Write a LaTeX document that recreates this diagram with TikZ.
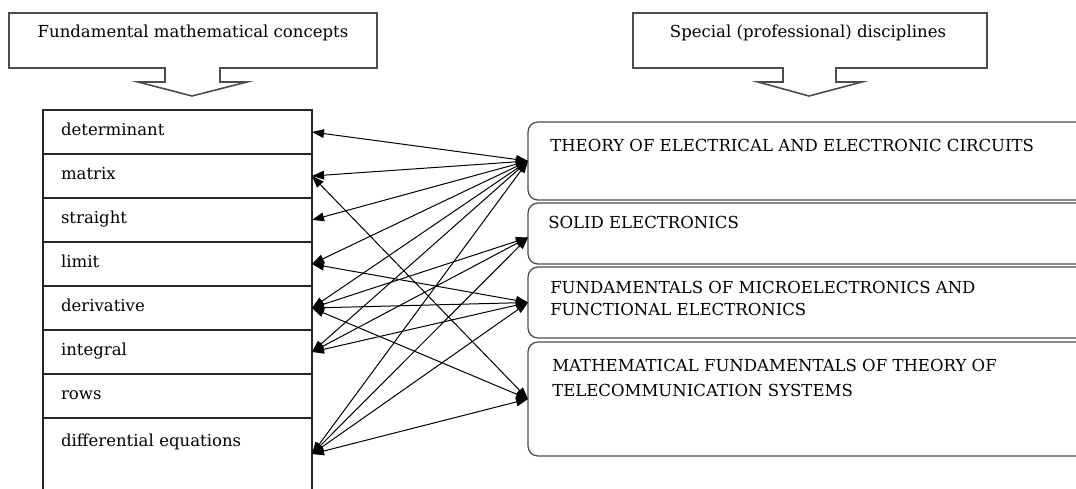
\documentclass[tikz,border=0pt]{standalone}
\usepackage{fontspec}
\setmainfont{DejaVu Serif}
\usetikzlibrary{arrows.meta,positioning}

\begin{document}
\begin{tikzpicture}[x = .75pt, y = -.75pt, font = \fontsize{12.4}{15}\selectfont,
    >={Triangle[length = 9pt, width = 6.5pt]},
    cell/.style = {draw = black!85, line width = .9pt, outer sep = 0pt,
      minimum height = 33pt, text width = 174.75pt, inner xsep = 13.5pt,
      inner ysep = 0pt, align = left, text height = 9pt, text depth = 4.5pt},
    disc/.style = {draw = black!70, line width = .9pt, rounded corners = 7.5pt,
      outer sep = 0pt, minimum width = 429pt, anchor = north west},
    head/.style = {draw = black!70, line width = 1.2pt},
    lbl/.style = {anchor = north west, inner sep = 0pt, align = left},
    link/.style = {<->, line width = .75pt}]
\path[use as bounding box] (0,0) rectangle (1076,489);
\clip (0,0) rectangle (1076,489);

% callouts
\draw[head] (9,13) -- (377,13) -- (377,68) -- (220,68) -- (220,82) -- (247,82)
  -- (192,96) -- (138,82) -- (165,82) -- (165,68) -- (9,68) -- cycle;
\node (fmc) [anchor = base] at (193,37) {Fundamental mathematical concepts};
\draw[head] (633,13) -- (987,13) -- (987,68) -- (836,68) -- (836,82) -- (862,82)
  -- (809,96) -- (758,82) -- (783,82) -- (783,68) -- (633,68) -- cycle;
\node (spd) [anchor = base] at (808,37) {Special (professional) disciplines};

% concepts
\node (det) [cell, anchor = north west] at (43,110) {determinant};
\node (mat) [cell, below = 0pt of det] {matrix};
\node (str) [cell, below = 0pt of mat] {straight};
\node (lim) [cell, below = 0pt of str] {limit};
\node (der) [cell, below = 0pt of lim] {derivative};
\node (int) [cell, below = 0pt of der] {integral};
\node (row) [cell, below = 0pt of int] {rows};
\node (dif) [cell, below = 0pt of row, minimum height = 54pt, text depth = 21pt] {differential equations};

% disciplines
\node (tec) [disc, minimum height = 58.5pt] at (528,122) {};
\node (sol) [disc, minimum height = 45.75pt] at (528,203) {};
\node (mic) [disc, minimum height = 53.25pt] at (528,267) {};
\node (tel) [disc, minimum height = 85.5pt] at (528,342) {};
\node (tect) [lbl] at (550,139) {THEORY OF ELECTRICAL AND ELECTRONIC CIRCUITS};
\node (solt) [lbl] at (548,216) {SOLID ELECTRONICS};
\node (mict) [lbl, font = \fontsize{12.4}{16.5}\selectfont] at (550,281)
  {FUNDAMENTALS OF MICROELECTRONICS AND\\FUNCTIONAL ELECTRONICS};
\node (telt) [lbl, font = \fontsize{12.4}{18.75}\selectfont] at (552,359)
  {MATHEMATICAL FUNDAMENTALS OF THEORY OF\\TELECOMMUNICATION SYSTEMS};

% links
\draw [link] (det.east) -- (tec.west);
\draw [link] (mat.east) -- (tec.west);
\draw [link] (str.east) -- (tec.west);
\draw [link] (lim.east) -- (tec.west);
\draw [link] (der.east) -- (tec.west);
\draw [link] (int.east) -- (tec.west);
\draw [link] (dif.east) -- (tec.west);
\draw [link] (der.east) -- ([yshift = -3pt]sol.west);
\draw [link] (int.east) -- ([yshift = -3pt]sol.west);
\draw [link] (dif.east) -- ([yshift = -3pt]sol.west);
\draw [link] (lim.east) -- (mic.west);
\draw [link] (der.east) -- (mic.west);
\draw [link] (int.east) -- (mic.west);
\draw [link] (dif.east) -- (mic.west);
\draw [link] (mat.east) -- (tel.west);
\draw [link] (der.east) -- (tel.west);
\draw [link] (dif.east) -- (tel.west);
\end{tikzpicture}
\end{document}
